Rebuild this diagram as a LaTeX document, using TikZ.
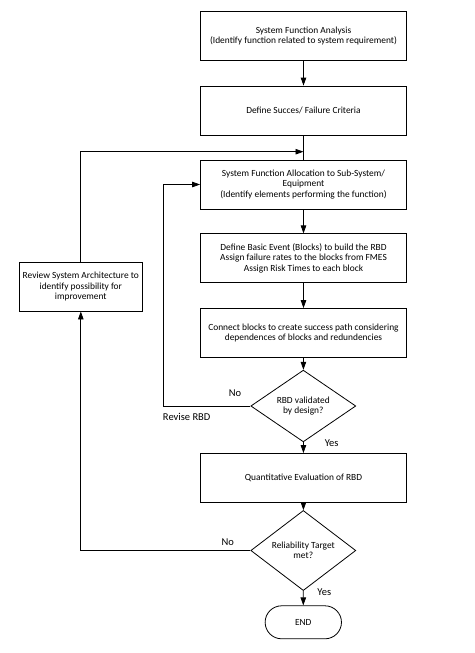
\documentclass[tikz,border=0pt]{standalone}
\usepackage{fontspec}
\setmainfont{Carlito}
\usetikzlibrary{shapes.geometric,shapes.misc,arrows.meta}

\begin{document}
\begin{tikzpicture}[
  x=1pt,y=-1pt,
  >={Triangle[length=8pt,width=5.5pt]},
  font=\fontsize{9.4}{10.5}\selectfont,
  step box/.style={
  	draw,
  	line width=0.8pt,
  	align=center,
  	minimum width=206pt,
  	minimum height=49pt,
  	inner sep=2pt
  },
  check/.style={
  	draw,
  	diamond,
  	line width=0.8pt,
  	align=center,
  	minimum width=105pt,
  	minimum height=62pt,
  	inner sep=0pt
  },
  terminal/.style={
  	draw,
  	rounded rectangle,
  	line width=0.8pt,
  	minimum width=83pt,
  	minimum height=33pt
  },
  flow/.style={
  	->,
  	line width=0.8pt
  },
  answer/.style={
  	font=\fontsize{10.5}{11}\selectfont
  }
  ]
  \useasboundingbox (0,0) rectangle (474,653);
  
  \node[step box] (ana) at (303.5,36.2) {System Function Analysis\\(Identify function related to system requirement)};
  \node[step box] (crit) at (303.5,110.5) {Define Succes/ Failure Criteria};
  \node[step box] (alloc) at (303.5,184.5) {System Function Allocation to Sub-System/\\Equipment\\(Identify elements performing the function)};
  \node[step box] (basic) at (303.5,258.3) {Define Basic Event (Blocks) to build the RBD\\Assign failure rates to the blocks from FMES\\Assign Risk Times to each block};
  \node[step box] (conn) at (303.5,333) {Connect blocks to create success path considering\\dependences of blocks and redundencies};
  \node[check] (valid) at (303.3,406) {RBD validated\\by design?};
  \node[step box] (quant) at (303.5,478) {Quantitative Evaluation of RBD};
  \node[check] (target) at (303.3,550.5) {Reliability Target\\met?};
  \node[terminal] (end) at (303.3,622.3) {END};
  \node[step box,minimum width=123.7pt,minimum height=48.7pt] (review) at (80.8,286.7) {Review System Architecture to\\identify possibility for\\improvement};
  
  \coordinate (join) at (303.5,151.7);
  \coordinate (revise) at (163.3,406);
  
  \node[answer] (no1) at (235,393) {No};
  \node[answer] (rev) at (186.7,417.3) {Revise RBD};
  \node[answer] (yes1) at (331.7,442.7) {Yes};
  \node[answer] (no2) at (227.7,541.7) {No};
  \node[answer] (yes2) at (324.3,591.7) {Yes};
  
  \draw[flow] (ana) -- (crit);
  \draw[line width=0.8pt] (crit) -- (alloc);
  \draw[flow] (alloc) -- (basic);
  \draw[flow] (basic) -- (conn);
  \draw[flow] (conn) -- (valid);
  \draw[flow] (valid) -- (quant);
  \draw[flow] (quant) -- (target);
  \draw[flow] (target) -- (end);
  \draw[flow] (valid.west) -- (revise) |- (alloc.west);
  \draw[flow] (target.west) -| (review.south);
  \draw[flow] (review.north) |- (join);
  
\end{tikzpicture}
\end{document}
